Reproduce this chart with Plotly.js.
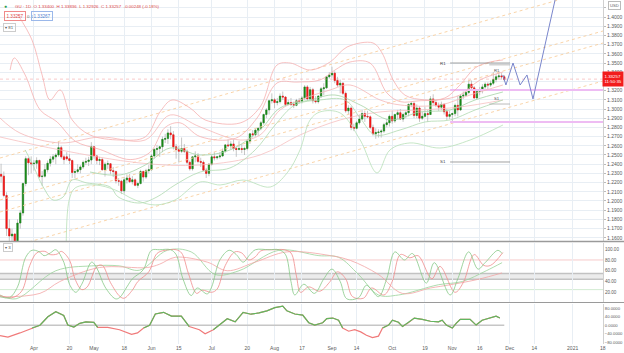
<!DOCTYPE html>
<html><head><meta charset="utf-8">
<script src="https://cdn.plot.ly/plotly-3.0.1.min.js"></script>
<style>html,body{margin:0;padding:0;background:#fff}#chart{width:624px;height:353px}</style>
</head><body><div id="chart"></div>
<script>
// ---- Daily GBP/USD candles, 16 Mar 2020 .. 27 Nov 2020 (trading-day index 0..184)
const opens=[1.2290,1.2270,1.2060,1.1700,1.1620,1.1640,1.1530,1.1760,1.1870,1.2190,
1.2460,1.2415,1.2405,1.2410,1.2440,1.2265,1.2270,1.2340,1.2410,1.2455,
1.2480,1.2500,1.2580,1.2480,1.2480,1.2460,1.2440,1.2310,1.2320,1.2340,
1.2370,1.2420,1.2430,1.2445,1.2590,1.2490,1.2440,1.2450,1.2340,1.2400,
1.2405,1.2330,1.2320,1.2220,1.2215,1.2110,1.2230,1.2250,1.2210,1.2230,
1.2170,1.2190,1.2320,1.2260,1.2330,1.2340,1.2490,1.2560,1.2570,1.2590,
1.2670,1.2680,1.2740,1.2720,1.2590,1.2560,1.2540,1.2570,1.2540,1.2420,
1.2350,1.2480,1.2490,1.2430,1.2420,1.2335,1.2300,1.2400,1.2480,1.2470,
1.2480,1.2490,1.2540,1.2610,1.2600,1.2620,1.2570,1.2560,1.2570,1.2560,
1.2570,1.2650,1.2730,1.2720,1.2770,1.2790,1.2850,1.2940,1.2990,1.3090,
1.3100,1.3070,1.3080,1.3140,1.3130,1.3050,1.3070,1.3050,1.3040,1.3090,
1.3085,1.3120,1.3240,1.3110,1.3210,1.3090,1.3080,1.3140,1.3220,1.3230,
1.3350,1.3370,1.3390,1.3310,1.3260,1.3280,1.3170,1.2980,1.3010,1.2800,
1.2790,1.2850,1.2890,1.2950,1.2920,1.2915,1.2800,1.2730,1.2745,1.2750,
1.2760,1.2830,1.2850,1.2920,1.2870,1.2940,1.2960,1.2890,1.2940,1.2960,
1.3050,1.3060,1.2930,1.3010,1.2900,1.2920,1.2950,1.2940,1.3110,1.3070,
1.3040,1.3020,1.3050,1.2970,1.2920,1.2940,1.2950,1.3040,1.2990,1.3140,
1.3150,1.3180,1.3270,1.3230,1.3120,1.3190,1.3200,1.3240,1.3270,1.3260,
1.3280,1.3320,1.3350,1.3360,1.3350];
const highs=[1.2405,1.2320,1.2095,1.1800,1.1700,1.1650,1.1800,1.1900,1.2200,1.2485,
1.2475,1.2485,1.2445,1.2475,1.2450,1.2325,1.2400,1.2440,1.2490,1.2510,
1.2520,1.2647,1.2600,1.2500,1.2530,1.2510,1.2450,1.2350,1.2400,1.2390,
1.2440,1.2470,1.2480,1.2640,1.2600,1.2500,1.2480,1.2470,1.2420,1.2440,
1.2410,1.2370,1.2330,1.2250,1.2230,1.2260,1.2290,1.2295,1.2270,1.2245,
1.2210,1.2340,1.2330,1.2350,1.2390,1.2510,1.2575,1.2610,1.2600,1.2700,
1.2730,1.2780,1.2813,1.2760,1.2620,1.2600,1.2690,1.2620,1.2560,1.2440,
1.2480,1.2540,1.2520,1.2470,1.2440,1.2360,1.2410,1.2500,1.2530,1.2490,
1.2530,1.2570,1.2620,1.2670,1.2650,1.2670,1.2590,1.2650,1.2620,1.2590,
1.2670,1.2740,1.2770,1.2790,1.2800,1.2870,1.2950,1.3010,1.3100,1.3170,
1.3120,1.3120,1.3170,1.3190,1.3140,1.3100,1.3120,1.3080,1.3110,1.3120,
1.3140,1.3260,1.3260,1.3240,1.3230,1.3140,1.3150,1.3240,1.3280,1.3360,
1.3400,1.3460,1.3410,1.3350,1.3320,1.3290,1.3190,1.3040,1.3030,1.2840,
1.2870,1.2940,1.2990,1.2980,1.2980,1.2930,1.2830,1.2790,1.2780,1.2780,
1.2850,1.2890,1.2940,1.2980,1.2950,1.2990,1.3000,1.2960,1.2980,1.3060,
1.3080,1.3080,1.3050,1.3030,1.2970,1.3020,1.2990,1.3140,1.3160,1.3100,
1.3070,1.3080,1.3060,1.3000,1.2980,1.2960,1.3060,1.3140,1.3160,1.3190,
1.3210,1.3310,1.3310,1.3250,1.3200,1.3240,1.3270,1.3290,1.3290,1.3310,
1.3400,1.3380,1.3400,1.3390,1.3370];
const lows=[1.2200,1.2040,1.1620,1.1450,1.1409,1.1410,1.1500,1.1700,1.1840,1.2160,
1.2280,1.2300,1.2330,1.2350,1.2250,1.2165,1.2255,1.2310,1.2375,1.2420,
1.2400,1.2480,1.2460,1.2400,1.2440,1.2400,1.2250,1.2245,1.2300,1.2300,
1.2350,1.2390,1.2380,1.2400,1.2460,1.2400,1.2390,1.2330,1.2265,1.2350,
1.2290,1.2260,1.2190,1.2165,1.2075,1.2080,1.2190,1.2195,1.2180,1.2160,
1.2140,1.2180,1.2210,1.2240,1.2300,1.2330,1.2460,1.2500,1.2480,1.2530,
1.2630,1.2620,1.2670,1.2560,1.2460,1.2420,1.2520,1.2520,1.2400,1.2330,
1.2330,1.2420,1.2410,1.2370,1.2330,1.2250,1.2270,1.2385,1.2440,1.2450,
1.2460,1.2480,1.2525,1.2585,1.2560,1.2540,1.2480,1.2550,1.2520,1.2500,
1.2550,1.2620,1.2690,1.2700,1.2710,1.2770,1.2830,1.2900,1.2940,1.3060,
1.3010,1.3040,1.3060,1.3100,1.3030,1.3040,1.3030,1.3010,1.3030,1.3060,
1.3060,1.3100,1.3100,1.3090,1.3060,1.3060,1.3060,1.3120,1.3150,1.3220,
1.3330,1.3340,1.3280,1.3240,1.3170,1.3150,1.2960,1.2940,1.2770,1.2760,
1.2780,1.2830,1.2880,1.2860,1.2900,1.2780,1.2710,1.2676,1.2690,1.2690,
1.2740,1.2800,1.2810,1.2840,1.2850,1.2890,1.2880,1.2860,1.2900,1.2920,
1.3020,1.2900,1.2900,1.2860,1.2880,1.2910,1.2860,1.2940,1.3040,1.3020,
1.2980,1.2990,1.2940,1.2880,1.2890,1.2850,1.2920,1.2920,1.2980,1.3110,
1.3140,1.3160,1.3220,1.3110,1.3110,1.3150,1.3170,1.3220,1.3200,1.3240,
1.3260,1.3290,1.3330,1.3320,1.3300];
const closes=[1.2270,1.2060,1.1700,1.1620,1.1640,1.1530,1.1760,1.1870,1.2190,1.2460,
1.2415,1.2405,1.2410,1.2440,1.2265,1.2270,1.2340,1.2410,1.2455,1.2480,
1.2500,1.2580,1.2480,1.2450,1.2460,1.2440,1.2310,1.2320,1.2340,1.2370,
1.2420,1.2430,1.2445,1.2590,1.2490,1.2440,1.2450,1.2340,1.2400,1.2405,
1.2330,1.2320,1.2220,1.2215,1.2110,1.2230,1.2250,1.2210,1.2230,1.2170,
1.2190,1.2320,1.2260,1.2330,1.2340,1.2490,1.2560,1.2570,1.2590,1.2670,
1.2680,1.2740,1.2720,1.2590,1.2560,1.2540,1.2570,1.2540,1.2420,1.2350,
1.2480,1.2490,1.2430,1.2420,1.2335,1.2300,1.2400,1.2480,1.2470,1.2480,
1.2490,1.2540,1.2610,1.2600,1.2620,1.2570,1.2560,1.2570,1.2560,1.2570,
1.2650,1.2730,1.2720,1.2770,1.2790,1.2850,1.2940,1.2990,1.3090,1.3100,
1.3070,1.3080,1.3140,1.3130,1.3050,1.3070,1.3050,1.3040,1.3090,1.3085,
1.3120,1.3240,1.3110,1.3210,1.3090,1.3080,1.3140,1.3220,1.3230,1.3350,
1.3370,1.3390,1.3310,1.3260,1.3280,1.3170,1.2980,1.3010,1.2800,1.2790,
1.2850,1.2890,1.2950,1.2920,1.2915,1.2800,1.2730,1.2745,1.2750,1.2760,
1.2830,1.2850,1.2920,1.2870,1.2940,1.2960,1.2890,1.2940,1.2960,1.3050,
1.3060,1.2930,1.3010,1.2900,1.2920,1.2950,1.2940,1.3110,1.3070,1.3040,
1.3020,1.3050,1.2970,1.2920,1.2940,1.2950,1.3040,1.2990,1.3140,1.3150,
1.3180,1.3270,1.3230,1.3120,1.3190,1.3200,1.3240,1.3270,1.3260,1.3280,
1.3320,1.3350,1.3360,1.3350,1.3320];

// ---- axis tick labels
const tickIdx=[12,25,34,45,55,65,77,90,100,110,121,130,143,155,165,175,186,195,209,220];
const tickText=['Apr','20','May','18','Jun','15','Jul','20','Aug','17','Sep','14','Oct','19','Nov','16','Dec','14','2021','18'];
const priceTicks=[1.16,1.17,1.18,1.19,1.20,1.21,1.22,1.23,1.24,1.25,1.26,1.27,1.28,1.29,1.30,1.31,1.32,1.33,1.34,1.35,1.36,1.37,1.38,1.39,1.40,1.41];
const priceText=['1.1600','1.1700','1.1800','1.1900','1.2000','1.2100','1.2200','1.2300','1.2400','1.2500','1.2600','1.2700','1.2800','1.2900','1.3000','1.3100','1.3200','','1.3400','1.3500','1.3600','1.3700','1.3800','1.3900','1.4000',''];
const oscTicks=[0,20,40,60,80,100];
const momTicks=[-80,-40,0,40,80];

// ---- band lines
const roX=[6.2,11.3,15,17.9,21.6,26,32.5,43.5,52.7,58.1,62.5,69.1,74.6,87.4,94.7,100.9,105.7,113,120.3,126.5,136,139.3,143.3,147.7,155,162.3,167.8,173.3,178.8,183.5];
const roY=[1.4022,1.3750,1.3370,1.3098,1.3207,1.2881,1.2718,1.2663,1.2696,1.2968,1.3098,1.3011,1.2881,1.2848,1.3022,1.3478,1.3500,1.3424,1.3511,1.3674,1.3718,1.3609,1.3320,1.3150,1.3100,1.3120,1.3261,1.3446,1.3511,1.3533];
const riX=[3.3,4.8,8.8,14.3,20.5,27.1,36.2,47.2,54.5,60,65.4,72.8,85.6,93.6,100.9,108.2,116.6,122.1,127.6,134.9,141.1,145.9,153.2,160.5,167.8,175.1,183.5];
const riY=[1.3424,1.3555,1.3370,1.2989,1.2859,1.2650,1.2560,1.2450,1.2530,1.2800,1.2850,1.2700,1.2680,1.2902,1.3283,1.3293,1.3315,1.3424,1.3511,1.3500,1.3174,1.3080,1.3090,1.3100,1.3152,1.3315,1.3402];
const rmX=[-0.4,6.9,21.6,36.2,52.7,61.8,72.8,87.4,94.7,102,109.3,120.3,127.6,138.6,145.9,160.5,171.5,183.5];
const rmY=[1.2902,1.2739,1.2631,1.2696,1.2663,1.2935,1.2805,1.2663,1.2718,1.2989,1.3098,1.3207,1.3261,1.3098,1.3044,1.3044,1.3152,1.3261];
const rsX=[-0.4,21.6,50.8,72.8,94.7,109.3,124,138.6,153.2,167.8,183.5];
const rsY=[1.2696,1.2555,1.2413,1.2391,1.2500,1.2718,1.2881,1.2968,1.2989,1.3022,1.3098];
const gmX=[32.5,43.5,52.7,61.8,72.8,83.7,94.7,102,113,122.1,131.3,142.2,153.2,164.2,173.3,183.5];
const gmY=[1.2315,1.2283,1.2391,1.2576,1.2500,1.2555,1.2772,1.3011,1.3098,1.3152,1.3044,1.2881,1.2968,1.2989,1.3098,1.3185];
const giX=[8.8,11.3,15.4,19,22.7,26,31.4,39.9,42.8,50.8,57,63.6,72.8,83.7,92.9,100.2,107.5,116.6,125.8,131.3,136.7,145.9,155,164.2,173.3,183.5];
const giY=[1.2555,1.2413,1.2152,1.2011,1.2044,1.2228,1.2196,1.2152,1.2044,1.1978,1.2044,1.2174,1.2315,1.2359,1.2555,1.2826,1.3044,1.3098,1.3098,1.2902,1.2718,1.2772,1.2859,1.2881,1.2989,1.3098];
const goX=[23.8,24.9,27.1,34.4,41.7,49,56.3,63.6,72.8,80.1,88.5,98.4,104.6,109.3,113,116.6,124,131.3,137.5,142.2,149.5,160.5,171.5,183.5];
const goY=[1.1359,1.2011,1.2142,1.2174,1.2120,1.2011,1.1957,1.2011,1.2207,1.2174,1.2228,1.2152,1.2305,1.2555,1.2881,1.2968,1.2957,1.2663,1.2305,1.2555,1.2631,1.2576,1.2663,1.2826];

// ---- drawn tools
const chanX=[-0.4,220.1];
const chanA=[1.2467,1.4322], chanC=[1.2011,1.3848], chanD=[1.1880,1.3717], chanB=[1.1467,1.3304];
const fcX=[183.5,184.6,187.2,189.8,192.3,194.5,203.3];
const fcY=[1.3370,1.3261,1.3500,1.3261,1.3370,1.3109,1.4283];
const zoneX=[164.2,220.1];
const zoneHi=1.3207, zoneLo=1.2859;
const lastPrice=1.3325;
const pivLong=[164.2,186.1], pivShort=[178.5,186.1];
const pivR=1.3500, pivR1=1.3480, pivS1=1.3054, pivS=1.2424;

// ---- oscillator (0..100)
const kX=[-0.4,3,6,9,11.3,14,15.7,18,20,23,25,27.3,29.5,33.1,35,38,41.8,43.3,46,48,52,55,58,62,64,66.5,69.5,71.7,75.4,77,80,83.4,86,88.5,91,93,98,101.6,104,106,107.4,110.7,114.6,118,121,124,126.4,130.7,133.6,138,141,144,147.5,150.4,155.5,158.4,164.2,167,171,174.4,177,181.7,183.2];
const kV=[12,10,30,85,98,95,88,93,99,75,35,20,35,76,65,30,8,10,30,45,62,98,99,99,90,45,14,28,17,30,80,98,90,76,90,99,99,99,90,40,15,35,18,45,63,40,8,10,33,12,45,95,80,92,37,75,15,45,95,63,75,98,92];
const dX=[-0.4,4,7.5,10.5,13,16,18,20.5,22,25,27,29.5,31.5,35,37,40,43.5,45,48,50,54,57,60,64,66,68.5,71.5,73.5,77,79,82,85.5,88,90.5,93,95,100,103.5,106,108,109.5,112.5,116.5,120,123,126,128.5,132.5,135.5,140,143,146,149.5,152.5,157.5,160.5,166,169,173,176.5,179,183.5];
const dV=[14,10,22,70,93,96,90,91,96,80,45,25,30,68,70,38,12,9,24,40,58,92,98,99,93,55,18,24,20,26,70,95,93,80,86,97,99,99,93,50,20,30,22,38,58,45,12,9,28,15,40,90,84,88,45,68,20,38,90,70,70,94];
const sgX=[-0.4,5.5,20,33.1,43.3,50.6,60.8,69.5,78.3,87,101.6,116.2,123.4,130.7,138,145.3,159.9,168.6,177.4,183.2];
const sgV=[15,8,60,69,69,61,98,95,53,60,98,88,85,53,15,15,34,40,60,75];
const srX=[-0.4,14.2,21.5,36,53.5,57.9,63.7,75.4,82.7,92.9,104.5,120.5,127.8,138,146.7,157,164.2,174.4,183.2];
const srV=[11.5,18,40,66,66,72,85,76,60,76,95,88,79,53,18,28,34,44,56];

// ---- momentum
const mX=[-0.4,2.5,6.9,11.3,14.2,17.1,20,22.9,24.4,26.6,28.8,31,33.9,35.3,39,43.3,47.7,49.9,52.1,54.3,56.4,59.4,62.3,65.9,68.8,72.5,74.6,77.6,79.7,82.7,85.6,88.5,91.4,94.3,97.2,100.1,103,104.5,107.4,110.3,112.5,114.7,117.6,119.1,121.3,123.4,124.9,127.1,129.3,131.5,133.6,135.8,138,139.5,141.7,143.1,145.3,146.8,148.9,151.1,154,157,159.9,161.3,162.8,165,166.4,167.9,171.5,173.7,175.9,178.8,181,182.4];
const mV=[-49,-56,-36,-13,0,40,64,46,1,-8,9,16,14,-10,-10,-21,-43,-36,-13,0,53,61,43,43,-6,-21,-40,-21,0,31,16,61,52,58,68,83,90,68,53,48,12,1,12,31,34,24,-13,-28,-21,-31,-47,-58,-51,-13,1,24,14,-6,12,34,28,19,16,24,1,-13,9,28,28,1,24,34,43,34];

const idx=closes.map((_,i)=>i);
const bodyHi=opens.map((o,i)=>Math.max(o,closes[i]));
const bodyLo=opens.map((o,i)=>Math.min(o,closes[i]));
const mGreen=mV.map((v,i)=>(v>=0||(i>0&&mV[i-1]>=0)||(i<mV.length-1&&mV[i+1]>=0))?v:null);

const line=(x,y,lineStyle,extra)=>Object.assign({type:'scatter',mode:'lines',x:x,y:y,hoverinfo:'skip',line:lineStyle},extra||{});
const sp=(c,w)=>({color:c,width:w,shape:'spline',smoothing:1});
const dotted={color:'#f8cf9f',width:0.9,dash:'dot'};

const traces=[
 line(chanX,chanA,dotted), line(chanX,chanC,dotted), line(chanX,chanD,dotted), line(chanX,chanB,dotted),
 line([-0.4,220.1],[lastPrice,lastPrice],{color:'rgba(240,120,120,0.4)',width:1,dash:'dot'}),
 line(zoneX,[zoneHi,zoneHi],{color:'#eebcf3',width:2}),
 line(zoneX,[zoneLo,zoneLo],{color:'#eebcf3',width:2}),
 line(roX,roY,sp('#f5b0b0',0.8)),
 line(riX,riY,sp('#f5b0b0',0.8)),
 line(rmX,rmY,sp('#f5b8b8',0.8)),
 line(rsX,rsY,sp('#f6c0c0',0.8)),
 line(gmX,gmY,sp('#a6d3a6',0.8)),
 line(giX,giY,sp('#b0d9b0',0.8)),
 line(goX,goY,sp('#b8dfb8',0.8)),
 line(pivLong,[pivR,pivR],{color:'#8a8a8a',width:0.8}),
 line(pivShort,[pivR1,pivR1],{color:'#aaaaaa',width:0.8}),
 line(pivShort,[pivS1,pivS1],{color:'#aaaaaa',width:0.8}),
 line(pivLong,[pivS,pivS],{color:'#8a8a8a',width:0.8}),
 {type:'candlestick',x:idx,open:opens,high:highs,low:lows,close:closes,hoverinfo:'skip',whiskerwidth:0,
  increasing:{line:{color:'#adadad',width:0.7},fillcolor:'#adadad'},decreasing:{line:{color:'#adadad',width:0.7},fillcolor:'#adadad'}},
 {type:'candlestick',x:idx,open:opens,high:bodyHi,low:bodyLo,close:closes,hoverinfo:'skip',whiskerwidth:0,
  increasing:{line:{color:'#178a17',width:0.5},fillcolor:'#178a17'},decreasing:{line:{color:'#f51414',width:0.5},fillcolor:'#f51414'}},
 line(fcX,fcY,{color:'#7a86cc',width:1}),
 // oscillator
 line(sgX,sgV,sp('#9ad39a',0.8),{yaxis:'y2'}),
 line(srX,srV,sp('#f2a4a4',0.8),{yaxis:'y2'}),
 line(dX,dV,sp('#f08c8c',0.8),{yaxis:'y2'}),
 line(kX,kV,sp('#86c986',0.8),{yaxis:'y2'}),
 // momentum
 line([-0.4,184],[0,0],{color:'#c6c6c6',width:1.6},{yaxis:'y3'}),
 line(mX,mV,{color:'#f07a7a',width:1.2},{yaxis:'y3'}),
 line(mX,mGreen,{color:'#5fb85f',width:1.2},{yaxis:'y3',connectgaps:false})
];

const F='Liberation Sans, Arial, sans-serif';
const ann=(x,y,text,o)=>Object.assign({xref:'paper',yref:'paper',x:x,y:y,text:text,showarrow:false,xanchor:'left',yanchor:'middle',font:{family:F,size:5,color:'#444'}},o||{});
const W=603, H=344;
const annotations=[
 ann(2/W,1-6/H,'●',{font:{family:F,size:5,color:'#2a9d4a'}}),
 ann(13/W,1-6/H,'GU · 1D  O 1.33400  H 1.33836  L 1.32926  C 1.33257  -0.00248 (-0.18%)',{font:{family:F,size:4.4,color:'#e04848'}}),
 ann(4/W,1-16.5/H,'1.33257',{font:{family:F,size:4.6,color:'#e04848'},bordercolor:'#f08a8a',borderwidth:1,borderpad:1.5}),
 ann(25/W,1-16.5/H,'0.1',{font:{family:F,size:4.4,color:'#666'}}),
 ann(31/W,1-16.5/H,'1.33267',{font:{family:F,size:4.6,color:'#4f7fd0'},bordercolor:'#9bb8ea',borderwidth:1,borderpad:1.5}),
 ann(3/W,1-27/H,'▾ 81',{font:{family:F,size:4.4,color:'#555'},bordercolor:'#ccc',borderwidth:1,borderpad:1}),
 ann(3/W,1-248/H,'▾ 3',{font:{family:F,size:4.4,color:'#555'},bordercolor:'#ccc',borderwidth:1,borderpad:1}),
 ann(1.009,1-5/H,'USD',{font:{family:F,size:4.2,color:'#666'},bordercolor:'#bbb',borderwidth:1,borderpad:1}),
 {xref:'paper',yref:'y',x:0.998,y:lastPrice,text:'1.33257<br>11:50:35',showarrow:false,xanchor:'left',yanchor:'middle',align:'left',
  font:{family:F,size:4.4,color:'#fff'},bgcolor:'#f21c1c',borderpad:1.5},
 {xref:'x',yref:'y',x:pivLong[0]-0.8,y:pivR,text:'R1',showarrow:false,xanchor:'right',yanchor:'middle',font:{family:F,size:4.4,color:'#444'}},
 {xref:'x',yref:'y',x:pivShort[0]+1,y:pivR1-0.0012,text:'R1',showarrow:false,xanchor:'left',yanchor:'top',font:{family:F,size:4.2,color:'#555'}},
 {xref:'x',yref:'y',x:pivShort[0]+1,y:pivS1+0.0012,text:'S1',showarrow:false,xanchor:'left',yanchor:'bottom',font:{family:F,size:4.2,color:'#555'}},
 {xref:'x',yref:'y',x:pivLong[0]-0.8,y:pivS,text:'S1',showarrow:false,xanchor:'right',yanchor:'middle',font:{family:F,size:4.4,color:'#444'}}
];

const shapes=[
 {type:'rect',xref:'x',yref:'y2',x0:-0.4,x1:220.1,y0:44,y1:55,fillcolor:'#ececec',line:{width:0},layer:'below'},
 {type:'line',xref:'x',yref:'y2',x0:-0.4,x1:220.1,y0:55,y1:55,line:{color:'#c2c2c2',width:1.5},layer:'below'},
 {type:'line',xref:'x',yref:'y2',x0:-0.4,x1:220.1,y0:44,y1:44,line:{color:'#c2c2c2',width:1.5},layer:'below'},
 {type:'line',xref:'x',yref:'y2',x0:-0.4,x1:220.1,y0:80,y1:80,line:{color:'#f6caca',width:1},layer:'below'},
 {type:'line',xref:'x',yref:'y2',x0:-0.4,x1:220.1,y0:25,y1:25,line:{color:'#d3ebd3',width:1},layer:'below'},
 {type:'line',xref:'paper',yref:'paper',x0:0,x1:1.035,y0:1-241.5/H,y1:1-241.5/H,line:{color:'#9a9a9a',width:1.5}},
 {type:'line',xref:'paper',yref:'paper',x0:0,x1:1.035,y0:1-302.5/H,y1:1-302.5/H,line:{color:'#9a9a9a',width:1.2}}
];

const grid='#e8eef4';
const tf={family:F,size:5,color:'#5a5a5a'};
const layout={
 width:624,height:353,margin:{l:0,r:21,t:0,b:9},paper_bgcolor:'#fff',plot_bgcolor:'#fff',showlegend:false,
 font:{family:F,size:5,color:'#555'},
 xaxis:{range:[-0.4,220.1],tickvals:tickIdx,ticktext:tickText,showgrid:true,gridcolor:grid,gridwidth:1,zeroline:false,anchor:'y3',
   ticks:'',tickfont:tf,showline:false,fixedrange:true,rangeslider:{visible:false}},
 yaxis:{domain:[1-241/H,1],range:[1.1565,1.4185],side:'right',anchor:'x',tickvals:priceTicks,ticktext:priceText,showgrid:true,gridcolor:grid,
   zeroline:false,showline:true,linecolor:'#d0d0d0',ticks:'outside',ticklen:2,tickcolor:'#bbb',tickfont:tf},
 yaxis2:{domain:[1-302/H,1-243/H],range:[2,111.5],side:'right',anchor:'x',tickvals:oscTicks,tickformat:'.2f',showgrid:false,
   zeroline:false,showline:true,linecolor:'#d0d0d0',tickfont:{family:F,size:4.6,color:'#5a5a5a'}},
 yaxis3:{domain:[0,1-304/H],range:[-88,100],side:'right',anchor:'x',tickvals:momTicks,tickformat:'.4f',showgrid:false,
   zeroline:false,showline:true,linecolor:'#d0d0d0',tickfont:{family:F,size:4.2,color:'#5a5a5a'}},
 annotations:annotations,shapes:shapes
};
Plotly.newPlot('chart',traces,layout,{staticPlot:true,displayModeBar:false});
</script></body></html>
